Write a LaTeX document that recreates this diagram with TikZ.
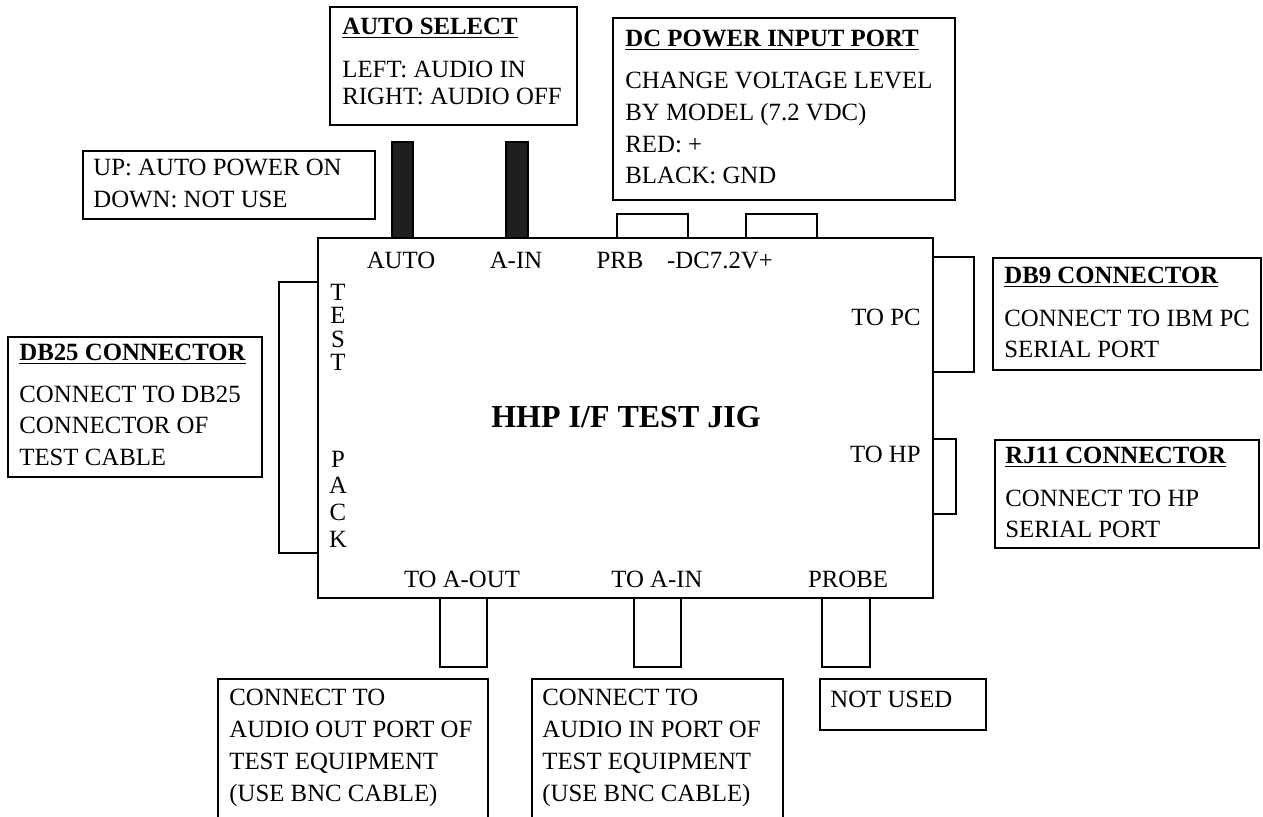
\documentclass[tikz,border=0pt]{standalone}
\usepackage{fontspec}
\setmainfont{Liberation Serif}
\usetikzlibrary{fit}
\begin{document}
\begin{tikzpicture}[x=0.5pt,y=-0.5pt,
  box/.style={draw, line width=0.75pt, inner sep=0pt},
  bar/.style={draw, fill=black!88, line width=0.75pt, inner sep=0pt},
  txt/.style={anchor=base west, inner sep=0pt, font=\fontsize{12.4pt}{14pt}\selectfont},
  hd/.style={anchor=base west, inner sep=0pt, font=\fontsize{12.4pt}{14pt}\selectfont\bfseries},
  lab/.style={anchor=base, inner sep=0pt, font=\fontsize{12.4pt}{14pt}\selectfont},
  labr/.style={anchor=base east, inner sep=0pt, font=\fontsize{12.4pt}{14pt}\selectfont},
  title/.style={anchor=base, inner sep=0pt, font=\fontsize{16pt}{18pt}\selectfont\bfseries}]
\useasboundingbox (0,0) rectangle (1263,816);

% main body
\node[box, fit={(318,238)(933,598)}] (main) {};
\node[title] (ttl) at (626,427) {HHP I/F TEST JIG};

% switches
\node[bar, fit={(392,142)(413,238)}] (swauto) {};
\node[bar, fit={(506,142)(528,238)}] (swain) {};

% connectors
\node[box, fit={(617,214)(688,238)}] (cprb) {};
\node[box, fit={(746,214)(817,238)}] (cdc) {};
\node[box, fit={(279,282)(318,553)}] (cdb25) {};
\node[box, fit={(933,257)(974,372)}] (cdb9) {};
\node[box, fit={(933,439)(956,514)}] (crj11) {};
\node[box, fit={(440,598)(487,667)}] (caout) {};
\node[box, fit={(634,598)(681,667)}] (cain) {};
\node[box, fit={(822,598)(870,667)}] (cprobe) {};

% labels inside main box
\node[lab] (lauto) at (401,268) {AUTO};
\node[lab] (lain) at (516,268) {A-IN};
\node[lab] (lprb) at (620,268) {PRB};
\node[lab] (ldc) at (720,268) {-DC7.2V+};
\node[labr] (lpc) at (921,325) {TO PC};
\node[labr] (lhp) at (921,462) {TO HP};
\node[lab] (laout) at (462,587) {TO A-OUT};
\node[lab] (lain2) at (657,587) {TO A-IN};
\node[lab] (lprobe) at (848,587) {PROBE};
\node[lab] (t1) at (338,300) {T};
\node[lab] (t2) at (338,323.5) {E};
\node[lab] (t3) at (338,347) {S};
\node[lab] (t4) at (338,370.5) {T};
\node[lab] (p1) at (338,467) {P};
\node[lab] (p2) at (338,493.7) {A};
\node[lab] (p3) at (338,520.3) {C};
\node[lab] (p4) at (338,547) {K};

% AUTO SELECT
\node[box, fit={(330,7)(577,125)}] (autosel) {};
\node[hd] (autoselh) at (342,34) {\underline{AUTO SELECT}};
\node[txt] (autosel1) at (342,77) {LEFT: AUDIO IN};
\node[txt] (autosel2) at (342,104) {RIGHT: AUDIO OFF};

% DC POWER
\node[box, fit={(613,18)(955,200)}] (dcp) {};
\node[hd] (dcph) at (625,46) {\underline{DC POWER INPUT PORT}};
\node[txt] (dcp1) at (625,88) {CHANGE VOLTAGE LEVEL};
\node[txt] (dcp2) at (625,120) {BY MODEL (7.2 VDC)};
\node[txt] (dcp3) at (625,152) {RED: +};
\node[txt] (dcp4) at (625,183) {BLACK: GND};

% UP / DOWN
\node[box, fit={(83,151)(375,219)}] (upd) {};
\node[txt] (upd1) at (93,175) {UP: AUTO POWER ON};
\node[txt] (upd2) at (93,207) {DOWN: NOT USE};

% DB25
\node[box, fit={(8,337)(262,477)}] (db25) {};
\node[hd] (db25h) at (19,360) {\underline{DB25 CONNECTOR}};
\node[txt] (db251) at (19,402) {CONNECT TO DB25};
\node[txt] (db252) at (19,433) {CONNECTOR OF};
\node[txt] (db253) at (19,465) {TEST CABLE};

% DB9
\node[box, fit={(993,258)(1261,370)}] (db9) {};
\node[hd] (db9h) at (1004,283) {\underline{DB9 CONNECTOR}};
\node[txt] (db91) at (1004,326) {CONNECT TO IBM PC};
\node[txt] (db92) at (1004,357) {SERIAL PORT};

% RJ11
\node[box, fit={(995,440)(1259,548)}] (rj11) {};
\node[hd] (rj11h) at (1005,463) {\underline{RJ11 CONNECTOR}};
\node[txt] (rj111) at (1005,506) {CONNECT TO HP};
\node[txt] (rj112) at (1005,537) {SERIAL PORT};

% bottom boxes
\node[box, fit={(218,679)(488,830)}] (bout) {};
\node[txt] (bout1) at (229,705) {CONNECT TO};
\node[txt] (bout2) at (229,737) {AUDIO OUT PORT OF};
\node[txt] (bout3) at (229,769) {TEST EQUIPMENT};
\node[txt] (bout4) at (229,801) {(USE BNC CABLE)};

\node[box, fit={(532,679)(783,830)}] (bin) {};
\node[txt] (bin1) at (542,705) {CONNECT TO};
\node[txt] (bin2) at (542,737) {AUDIO IN PORT OF};
\node[txt] (bin3) at (542,769) {TEST EQUIPMENT};
\node[txt] (bin4) at (542,801) {(USE BNC CABLE)};

\node[box, fit={(820,679)(986,730)}] (bnu) {};
\node[txt] (bnu1) at (830,707) {NOT USED};
\end{tikzpicture}
\end{document}
